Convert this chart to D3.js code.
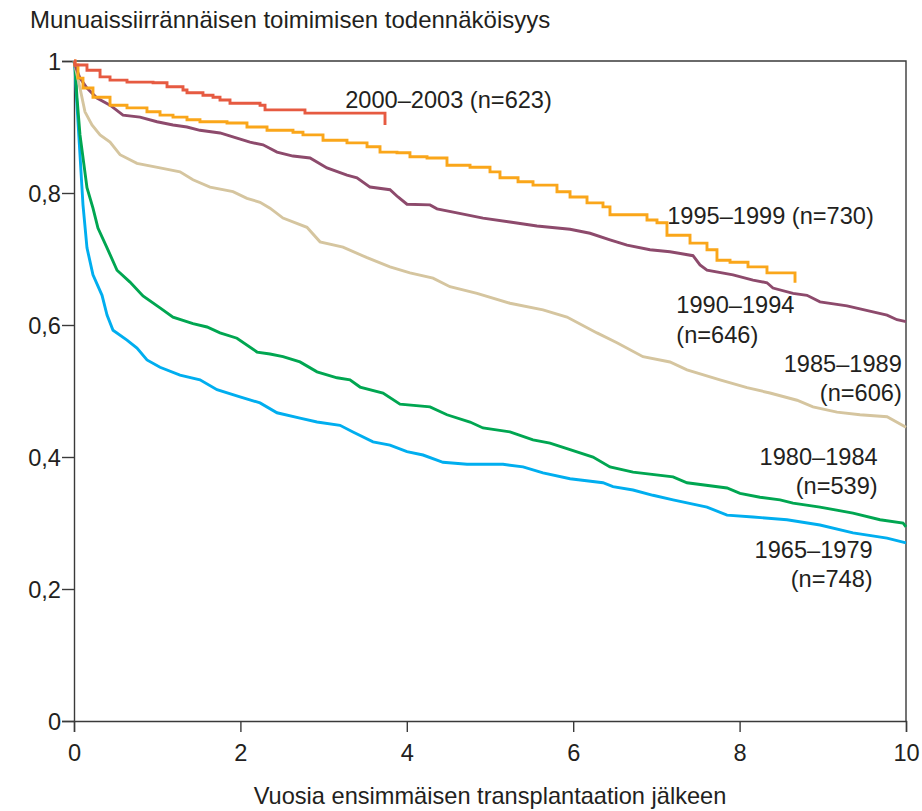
<!DOCTYPE html>
<html>
<head>
<meta charset="utf-8">
<script src="https://d3js.org/d3.v7.min.js"></script>
<style>
  body { margin: 0; background: #fff; }
  svg { font-family: "Liberation Sans", Arial, sans-serif; }
</style>
</head>
<body>
<div id="chart"></div>
<script>
// Kaplan-Meier curves: [years, probability]
const s2000 = [[0,1],[.012,.994],[.156,.986],[.313,.976],[.433,.971],[.637,.968],[.95,.967],[1.118,.961],[1.31,.956],[1.358,.952],[1.55,.948],[1.671,.945],[1.755,.941],[1.875,.936],[2.236,.933],[2.296,.926],[2.776,.921],[3.738,.903]];

const s1995 = [[0,1],[.012,.994],[.048,.974],[.108,.959],[.228,.945],[.433,.933],[.637,.929],[.877,.923],[1.034,.918],[1.19,.915],[1.358,.911],[1.514,.908],[1.839,.906],[2.079,.900],[2.32,.895],[2.632,.892],[2.752,.888],[2.993,.880],[3.281,.876],[3.522,.870],[3.678,.862],[3.882,.861],[4.038,.855],[4.243,.853],[4.483,.842],[4.76,.839],[5.0,.832],[5.12,.823],[5.337,.817],[5.517,.812],[5.805,.802],[5.962,.794],[6.166,.785],[6.358,.779],[6.442,.767],[6.887,.759],[7.007,.755],[7.127,.736],[7.404,.724],[7.608,.714],[7.728,.698],[7.885,.695],[8.101,.688],[8.329,.679],[8.666,.664]];

const s1990 = [[0,1],[.012,.994],[.072,.974],[.156,.959],[.276,.944],[.433,.933],[.589,.918],[.793,.915],[.998,.908],[1.19,.903],[1.358,.900],[1.514,.895],[1.755,.891],[1.959,.883],[2.115,.877],[2.272,.873],[2.44,.862],[2.632,.856],[2.837,.853],[3.041,.838],[3.281,.827],[3.401,.823],[3.558,.809],[3.798,.805],[3.894,.794],[4.002,.783],[4.279,.782],[4.363,.776],[4.603,.770],[4.916,.762],[5.24,.756],[5.565,.750],[5.962,.745],[6.202,.739],[6.442,.729],[6.647,.721],[6.923,.714],[7.163,.711],[7.44,.705],[7.524,.691],[7.608,.683],[7.921,.676],[8.161,.668],[8.329,.664],[8.401,.656],[8.642,.648],[8.81,.645],[8.966,.635],[9.291,.629],[9.603,.620],[9.772,.615],[9.892,.608],[10,.605]];

const s1985 = [[0,1],[.024,.986],[.072,.959],[.132,.923],[.216,.903],[.313,.888],[.433,.877],[.553,.858],[.757,.845],[1.034,.838],[1.274,.832],[1.43,.820],[1.635,.809],[1.911,.802],[2.079,.792],[2.236,.786],[2.356,.777],[2.512,.762],[2.8,.748],[2.957,.726],[3.233,.718],[3.522,.702],[3.798,.688],[4.038,.679],[4.315,.671],[4.519,.658],[4.844,.648],[5.24,.633],[5.637,.623],[5.925,.612],[6.286,.588],[6.526,.573],[6.839,.552],[7.163,.544],[7.368,.532],[7.764,.517],[8.089,.505],[8.365,.497],[8.69,.486],[8.882,.476],[9.171,.468],[9.447,.464],[9.772,.461],[10,.445]];

const s1980 = [[0,1],[.012,.994],[.036,.944],[.072,.888],[.156,.808],[.228,.777],[.288,.747],[.397,.717],[.517,.683],[.673,.665],[.829,.644],[1.034,.626],[1.19,.612],[1.43,.602],[1.599,.597],[1.755,.588],[1.959,.580],[2.2,.559],[2.356,.556],[2.512,.552],[2.716,.544],[2.921,.529],[3.161,.520],[3.317,.517],[3.438,.506],[3.714,.497],[3.918,.480],[4.279,.476],[4.483,.464],[4.76,.453],[4.916,.444],[5.24,.438],[5.517,.426],[5.721,.421],[5.962,.411],[6.238,.400],[6.442,.385],[6.719,.377],[7.2,.370],[7.368,.361],[7.849,.353],[8.005,.345],[8.245,.339],[8.486,.335],[8.642,.330],[8.966,.324],[9.363,.315],[9.688,.305],[9.964,.300],[10,.294]];

const s1965 = [[0,1],[.012,.989],[.036,.933],[.072,.858],[.108,.782],[.156,.717],[.228,.676],[.337,.645],[.397,.615],[.469,.592],[.637,.577],[.757,.565],[.877,.547],[1.034,.536],[1.274,.524],[1.514,.517],[1.719,.502],[1.995,.491],[2.236,.482],[2.44,.467],[2.716,.459],[2.921,.453],[3.197,.448],[3.353,.438],[3.594,.423],[3.798,.418],[4.002,.408],[4.195,.403],[4.435,.392],[4.724,.389],[5.156,.389],[5.397,.385],[5.637,.376],[5.962,.367],[6.358,.361],[6.478,.355],[6.719,.350],[6.959,.342],[7.2,.335],[7.608,.324],[7.849,.312],[8.161,.309],[8.57,.305],[8.966,.297],[9.363,.285],[9.772,.277],[10,.270]];

const xTicks = [0, 2, 4, 6, 8, 10];
const yTicks = [0, 0.2, 0.4, 0.6, 0.8, 1];

const series = [
  { data: s1965, color: "#00aeef", step: false, label: ["1965–1979", "(n=748)"] },
  { data: s1980, color: "#00a651", step: false, label: ["1980–1984", "(n=539)"] },
  { data: s1985, color: "#d5c59f", step: false, label: ["1985–1989", "(n=606)"] },
  { data: s1990, color: "#8d4a6c", step: false, label: ["1990–1994", "(n=646)"] },
  { data: s1995, color: "#faa61a", step: true,  label: ["1995–1999 (n=730)"] },
  { data: s2000, color: "#e65a41", step: true,  label: ["2000–2003 (n=623)"] }
];

// label anchor points (years, probability) and alignment
const labelPos = [
  { x: 9.60, y: 0.247, anchor: "end" },
  { x: 9.66, y: 0.388, anchor: "end" },
  { x: 9.95, y: 0.529, anchor: "end" },
  { x: 7.24, y: 0.618, anchor: "start" },
  { x: 7.13, y: 0.753, anchor: "start" },
  { x: 3.26, y: 0.929, anchor: "start" }
];

const width = 922, height = 811;
const fontSize = "23.6px";
const x = d3.scaleLinear().domain([0, 10]).range([74, 906]);
const y = d3.scaleLinear().domain([0, 1]).range([721, 61]);

const svg = d3.select("#chart").append("svg")
  .attr("width", width)
  .attr("height", height);

const fi = d3.formatLocale({ decimal: ",", thousands: " ", grouping: [3], currency: ["", ""] }).format("~g");

// frame top + right
svg.append("path")
  .attr("d", `M${x(0)},${y(1)}H${x(10)}V${y(0)}`)
  .attr("fill", "none")
  .attr("stroke", "#3a3a3a")
  .attr("stroke-width", 1.4);

const xAxis = svg.append("g")
  .attr("transform", `translate(0,${y(0)})`)
  .call(d3.axisBottom(x).tickValues(xTicks).tickSize(11).tickPadding(12).tickFormat(d3.format("d")));

const yAxis = svg.append("g")
  .attr("transform", `translate(${x(0)},0)`)
  .call(d3.axisLeft(y).tickValues(yTicks).tickSize(12).tickPadding(1).tickFormat(fi));

[xAxis, yAxis].forEach(a => {
  a.selectAll("path, line").attr("stroke", "#3a3a3a").attr("stroke-width", 1.4);
  a.selectAll("text").attr("font-size", fontSize).attr("fill", "#231f20")
    .attr("font-family", "'Liberation Sans', Arial, sans-serif");
});
yAxis.selectAll("text").attr("dy", "0.36em");

const line = d3.line().x(d => x(d[0])).y(d => y(d[1]));

series.forEach(s => {
  svg.append("path")
    .datum(s.data)
    .attr("fill", "none")
    .attr("stroke", s.color)
    .attr("stroke-width", 2.9)
    .attr("stroke-linejoin", "miter")
    .attr("d", line.curve(s.step ? d3.curveStepAfter : d3.curveLinear));
});

series.forEach((s, i) => {
  const p = labelPos[i];
  const t = svg.append("text")
    .attr("x", x(p.x))
    .attr("y", y(p.y))
    .attr("text-anchor", p.anchor)
    .attr("font-size", fontSize)
    .attr("fill", "#231f20");
  s.label.forEach((l, j) => {
    t.append("tspan").attr("x", x(p.x)).attr("dy", j === 0 ? 0 : 29.5).text(l);
  });
});

svg.append("text")
  .attr("x", 30)
  .attr("y", 28)
  .attr("font-size", "24px")
  .attr("fill", "#231f20")
  .text("Munuaissiirrännäisen toimimisen todennäköisyys");

svg.append("text")
  .attr("x", (x(0) + x(10)) / 2)
  .attr("y", 804)
  .attr("text-anchor", "middle")
  .attr("font-size", fontSize)
  .attr("fill", "#231f20")
  .text("Vuosia ensimmäisen transplantaation jälkeen");
</script>
</body>
</html>
